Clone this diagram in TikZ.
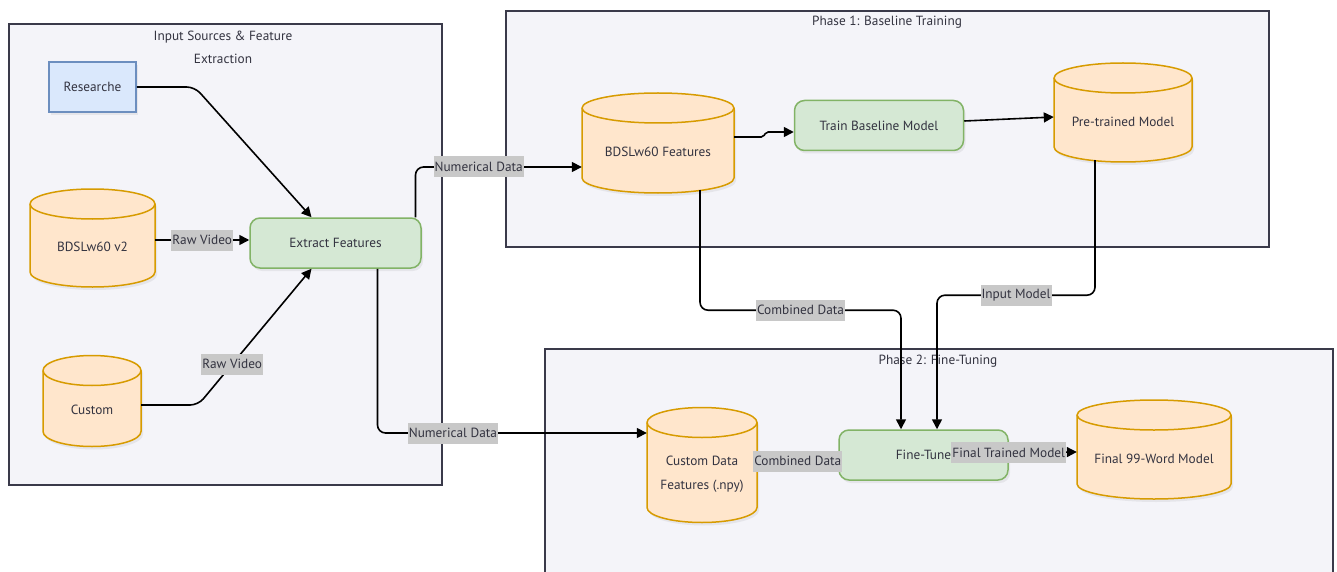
\documentclass[tikz,border=0pt]{standalone}
\usepackage{fontspec}
\setmainfont{PT Sans}
\usetikzlibrary{arrows.meta,shadows}
\definecolor{dbfill}{HTML}{FFE6CC}
\definecolor{dbline}{HTML}{D79B00}
\definecolor{procfill}{HTML}{D5E8D4}
\definecolor{procline}{HTML}{82B366}
\definecolor{srcfill}{HTML}{DAE8FC}
\definecolor{srcline}{HTML}{6C8EBF}
\definecolor{grpfill}{HTML}{F4F4F9}
\definecolor{grpline}{HTML}{3A3A4A}
\definecolor{lblfill}{HTML}{C8C8C8}
\definecolor{ink}{HTML}{333340}
% cylinder: name, x, y, width, height, text
\newcommand\dbnode[6]{%
	\draw[dbwall, shadowed] (#2,#3) ++({-#4/2},{-#5/2+15}) -- ++(0,{#5-30})
		arc[start angle=180, end angle=360, x radius={#4/2*1pt}, y radius=15pt]
		-- ++(0,{30-#5})
		arc[start angle=0, end angle=180, x radius={#4/2*1pt}, y radius=15pt] -- cycle;
	\draw[dbwall, fill=none] (#2,#3) ++({-#4/2},{-#5/2+15})
		arc[start angle=180, end angle=360, x radius={#4/2*1pt}, y radius=15pt];
	\node[minimum width=#4pt, minimum height=#5pt, inner sep=0pt,
		label={[yshift=-9pt, align=center, font=\fontsize{13.3}{24}\selectfont]center:#6}] (#1) at (#2,#3) {};%
}
\begin{document}
\begin{tikzpicture}[x=1pt, y=-1pt, font=\fontsize{13.3}{16}\selectfont, text=ink,
    grp/.style={draw=grpline, fill=grpfill, line width=1.5pt},
    shadowed/.style={drop shadow={opacity=0.12, shadow xshift=2pt, shadow yshift=-3pt}},
    dbwall/.style={draw=dbline, fill=dbfill, line width=1.5pt},
    proc/.style={rectangle, rounded corners=10pt, draw=procline, fill=procfill, line width=1.5pt, minimum width=169pt, minimum height=50pt, shadowed},
    src/.style={rectangle, draw=srcline, fill=srcfill, line width=1.5pt, minimum width=87pt, minimum height=50pt, shadowed},
    lbl/.style={fill=lblfill, sharp corners, inner xsep=1pt, inner ysep=0pt, minimum height=21pt, text=ink},
    link/.style={draw=black, line width=1.6pt, -{Triangle[length=10pt,width=10pt]}, rounded corners=8pt}]
	\useasboundingbox[fill=white] (0,0) rectangle (1337,572);
	% groups
	\draw[grp] (9,24) rectangle (442,485);
	\node[align=center, font=\fontsize{13.3}{23}\selectfont] (inputtitle) at (223,47) {Input Sources \& Feature\\Extraction};
	\draw[grp] (506,11) rectangle (1269,247);
	\node (phaseonetitle) at (887,22) {Phase 1: Baseline Training};
	\draw[grp] (545,349) rectangle (1333,600);
	\node (phasetwotitle) at (938,361) {Phase 2: Fine-Tuning};
	% input sources
	\node[src] (res) at (92.5,87) {Researche};
	\dbnode{v2}{92.5}{238}{125}{98}{BDSLw60 v2}
	\dbnode{cust}{92}{401}{98}{91}{Custom}
	\node[proc, minimum width=171pt] (ext) at (335.5,243) {Extract Features};
	% phase 1
	\dbnode{bf}{658}{143}{152}{100}{BDSLw60 Features}
	\node[proc] (train) at (879,125.5) {Train Baseline Model};
	\dbnode{ptm}{1123}{112.5}{138}{99}{Pre-trained Model}
	% phase 2
	\dbnode{cdf}{702}{465}{110}{115}{Custom Data\\Features (.npy)}
	\node[proc] (ft) at (923.5,455) {Fine-Tune};
	\dbnode{fin}{1154}{449.5}{154}{99}{Final 99-Word Model}
	% connectors
	\draw[link] (res.east) -- ++(58,0) -- ([xshift=-24pt]ext.north);
	\draw[link] ([yshift=-2pt]v2.east) -- node[lbl]{Raw Video} ([yshift=3pt]ext.west);
	\draw[link] ([yshift=-4pt]cust.east) -- ++(57,0) -- node[lbl, pos=0.3]{Raw Video} ([xshift=-24pt]ext.south);
	\draw[link] ([xshift=80pt]ext.north) |- node[lbl, pos=0.69]{Numerical Data} ([yshift=-24pt]bf.west);
	\draw[link] ([xshift=42pt]ext.south) |- node[lbl, pos=0.64]{Numerical Data} ([yshift=32pt]cdf.west);
	\draw[link, rounded corners=2pt] ([yshift=6pt]bf.east) -- ++(29,0) -- ++(3,-5) -- ([yshift=-6.5pt]train.west);
	\draw[link] ([yshift=4.5pt]train.east) -- ([yshift=-4.5pt]ptm.west);
	\draw[link] ([xshift=42pt,yshift=3pt]bf.south) -- ++(0,120) -| node[lbl, pos=0.25]{Combined Data} ([xshift=-22.5pt]ft.north);
	\draw[link] ([xshift=-28pt,yshift=2pt]ptm.south) -- ++(0,135) -| node[lbl, pos=0.25]{Input Model} ([xshift=13.5pt]ft.north);
	\draw[link] ([yshift=4pt]cdf.east) -- node[lbl]{Combined Data} ([yshift=-6pt]ft.west);
	\draw[link] ([yshift=2.5pt]ft.east) -- node[lbl, pos=0]{Final Trained Model} ([yshift=-2.5pt]fin.west);
\end{tikzpicture}
\end{document}
